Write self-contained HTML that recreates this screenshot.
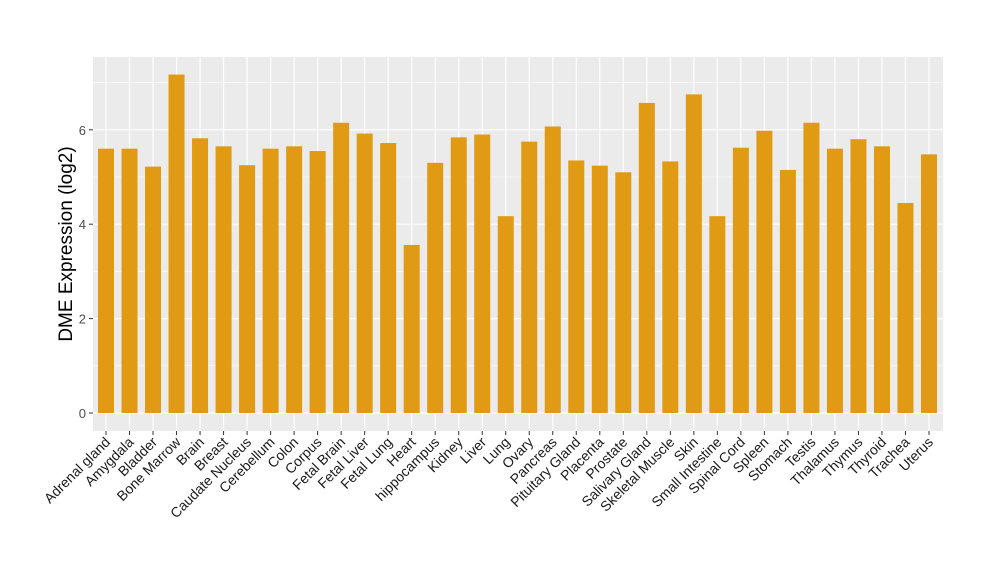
<!DOCTYPE html>
<html><head><meta charset="utf-8"><style>body{margin:0;background:#fff}</style></head><body>
<svg width="1000" height="580" xmlns="http://www.w3.org/2000/svg" font-family="Liberation Sans, sans-serif">
<rect x="93" y="57" width="850" height="374" fill="#ebebeb"/>
<g id="grid"></g>
<g id="bars"></g>
<g id="lbl"></g>
<text transform="translate(72,244) rotate(-90)" text-anchor="middle" font-size="19" fill="#000">DME Expression (log2)</text>
</svg>
<script>
const names=["Adrenal gland","Amygdala","Bladder","Bone Marrow","Brain","Breast","Caudate Nucleus","Cerebellum","Colon","Corpus","Fetal Brain","Fetal Liver","Fetal Lung","Heart","hippocampus","Kidney","Liver","Lung","Ovary","Pancreas","Pituitary Gland","Placenta","Prostate","Salivary Gland","Skeletal Muscle","Skin","Small Intestine","Spinal Cord","Spleen","Stomach","Testis","Thalamus","Thymus","Thyroid","Trachea","Uterus"];
const v=[5.6,5.6,5.22,7.17,5.82,5.65,5.25,5.6,5.65,5.55,6.15,5.92,5.72,3.56,5.3,5.84,5.9,4.17,5.75,6.07,5.35,5.24,5.1,6.57,5.33,6.75,4.17,5.62,5.98,5.15,6.15,5.6,5.8,5.65,4.45,5.48];
const ns="http://www.w3.org/2000/svg";
function el(p,t,a,txt){const e=document.createElementNS(ns,t);for(const k in a)e.setAttribute(k,a[k]);if(txt)e.textContent=txt;document.querySelector(p).appendChild(e);}
const y0=413,s=47.2,x0=106,dx=23.514;
for(let i=0;i<4;i++){const y=y0-(2*i+1)*s;el("#grid","line",{x1:93,x2:943,y1:y,y2:y,stroke:"#fff","stroke-width":0.6});}
for(let i=0;i<4;i++){const y=y0-2*i*s;el("#grid","line",{x1:93,x2:943,y1:y,y2:y,stroke:"#fff","stroke-width":1.2});
el("#lbl","line",{x1:89,x2:93,y1:y,y2:y,stroke:"#333"});
el("#lbl","text",{x:86,y:y+5,"text-anchor":"end","font-size":13,fill:"#4d4d4d"},String(2*i));}
names.forEach((n,i)=>{const x=x0+i*dx;el("#grid","line",{x1:x,x2:x,y1:57,y2:431,stroke:"#fff","stroke-width":1.2});
const h=v[i]*s;el("#bars","rect",{x:x-8,y:y0-h,width:16,height:h,fill:"#e09a13"});
el("#lbl","line",{x1:x,x2:x,y1:431,y2:435,stroke:"#333"});
el("#lbl","text",{x:0,y:0,transform:`translate(${x+5},${443}) rotate(-45)`,"text-anchor":"end","font-size":14,fill:"#1a1a1a"},n);});
</script>
</body></html>
